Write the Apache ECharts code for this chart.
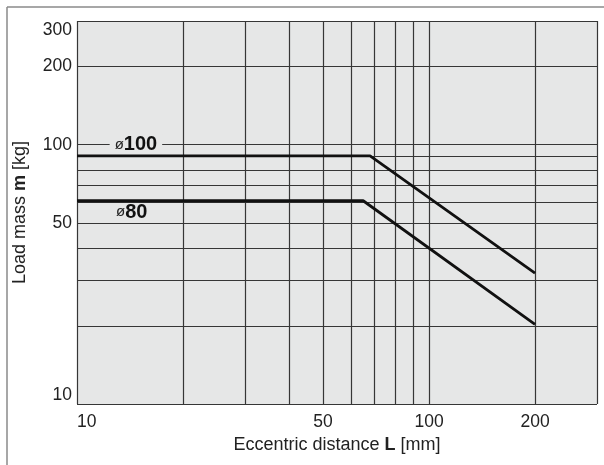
<!DOCTYPE html>
<html><head><meta charset="utf-8">
<script src="https://cdn.jsdelivr.net/npm/echarts@6/dist/echarts.min.js"></script>
<style>html,body{margin:0;padding:0;background:#fff}#c{width:604px;height:465px}</style>
</head><body><div id="c"></div>
<script>
// Eccentric distance L [mm] grid / tick values
const xGridValues = [10, 20, 30, 40, 50, 60, 70, 80, 90, 100, 200, 300];
const xTickLabels = [10, 50, 100, 200];
// Load mass m [kg] grid / tick values
const yGridValues = [10, 20, 30, 40, 50, 60, 70, 80, 90, 100, 200, 300];
const yTickLabels = [10, 50, 100, 200, 300];
// Series: [L, m]
const phi100 = [[10, 90.5], [68, 90.5], [200, 32]];
const phi80 = [[10, 60.8], [65, 60.8], [200, 20.3]];
// Label anchors (data space)
const phi100Label = [14.7, 100];
const phi80Label = [14.3, 55];

const FONT = "'Liberation Sans', Arial, Helvetica, sans-serif";
const GRID_COLOR = '#363636';
const BG = '#e6e7e7';

const chart = echarts.init(document.getElementById('c'), null, {renderer: 'canvas'});
chart.setOption({
  animation: false,
  backgroundColor: '#fff',
  textStyle: {fontFamily: FONT},
  grid: {left: 77, top: 21, right: 7, bottom: 61, show: true, backgroundColor: BG, borderWidth: 0},
  graphic: [
    {type: 'line', shape: {x1: 7, y1: 7, x2: 604, y2: 7}, style: {stroke: '#8a8a8a', lineWidth: 1.5}, silent: true},
    {type: 'line', shape: {x1: 7, y1: 7, x2: 7, y2: 465}, style: {stroke: '#8a8a8a', lineWidth: 1.5}, silent: true}
  ],
  xAxis: {
    type: 'log', logBase: 10, min: 10, max: 300,
    name: '{a|Eccentric distance }{b|L}{a| [mm]}',
    nameLocation: 'middle', nameGap: 30,
    nameTextStyle: {rich: {a: {fontSize: 18, color: '#222', fontFamily: FONT}, b: {fontSize: 18, fontWeight: 'bold', color: '#222', fontFamily: FONT}}},
    axisLine: {show: false},
    axisTick: {show: false, customValues: xGridValues},
    axisLabel: {customValues: xTickLabels, fontSize: 17.5, color: '#222', margin: 9, alignMinLabel: 'left', fontFamily: FONT},
    splitLine: {show: true, lineStyle: {color: GRID_COLOR, width: 1.2}},
    minorTick: {show: false}, minorSplitLine: {show: false}
  },
  yAxis: {
    type: 'log', logBase: 10, min: 10, max: 300,
    name: '{a|Load mass }{b|m}{a| [kg]}',
    nameLocation: 'middle', nameGap: 48, nameRotate: 90,
    nameTextStyle: {rich: {a: {fontSize: 18, color: '#222', fontFamily: FONT}, b: {fontSize: 18, fontWeight: 'bold', color: '#222', fontFamily: FONT}}},
    axisLine: {show: false},
    axisTick: {show: false, customValues: yGridValues},
    axisLabel: {customValues: yTickLabels, fontSize: 17.5, color: '#222', margin: 5, verticalAlignMinLabel: 'bottom', verticalAlignMaxLabel: 'top', fontFamily: FONT},
    splitLine: {show: true, lineStyle: {color: GRID_COLOR, width: 1.2}},
    minorTick: {show: false}, minorSplitLine: {show: false}
  },
  series: [
    {
      name: 'ø100', type: 'line', data: phi100, symbol: 'none',
      lineStyle: {color: '#111', width: 2.8}, z: 5,
      markPoint: {
        symbol: 'rect', symbolSize: [0, 0], silent: true,
        data: [{coord: phi100Label}],
        label: {show: true, position: 'inside', formatter: '{p|ø}{n|100}', backgroundColor: BG, padding: [0, 5],
          rich: {p: {fontSize: 15, color: '#222', fontFamily: FONT}, n: {fontSize: 20, fontWeight: 'bold', color: '#111', fontFamily: FONT}}}
      }
    },
    {
      name: 'ø80', type: 'line', data: phi80, symbol: 'none',
      lineStyle: {color: '#111', width: 2.8}, z: 5,
      markPoint: {
        symbol: 'rect', symbolSize: [0, 0], silent: true,
        data: [{coord: phi80Label}],
        label: {show: true, position: 'inside', formatter: '{p|ø}{n|80}', padding: [0, 5],
          rich: {p: {fontSize: 15, color: '#222', fontFamily: FONT}, n: {fontSize: 20, fontWeight: 'bold', color: '#111', fontFamily: FONT}}}
      }
    }
  ]
});
</script>
</body></html>
